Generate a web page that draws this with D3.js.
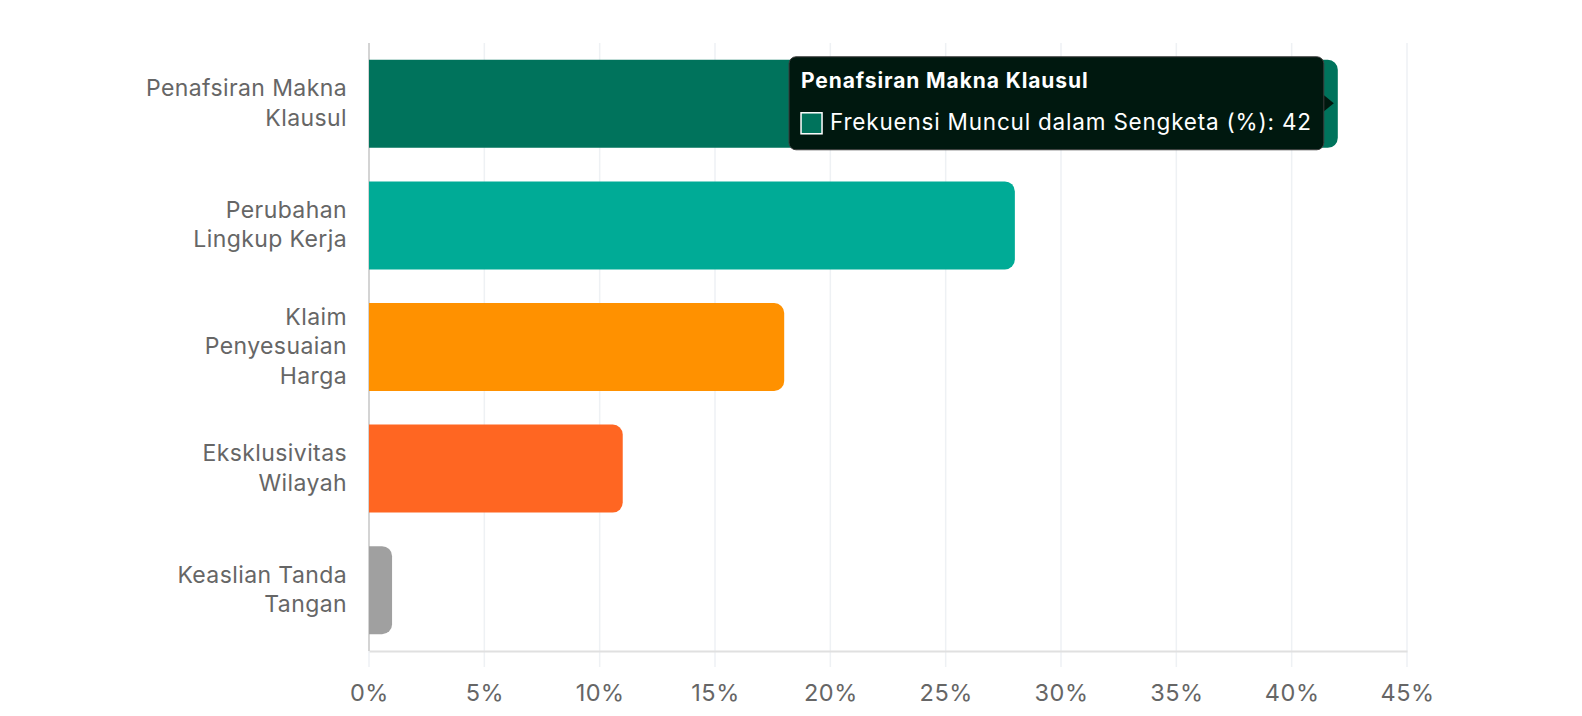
<!DOCTYPE html>
<html>
<head>
<meta charset="utf-8">
<script src="https://cdn.jsdelivr.net/npm/d3@7"></script>
<style>
  body { margin: 0; background: #fff; }
  svg { display: block; font-family: Inter, "Noto Sans", sans-serif; }
</style>
</head>
<body>
<div id="chart"></div>
<script>
// data
const categories = ["Penafsiran Makna Klausul", "Perubahan Lingkup Kerja", "Klaim Penyesuaian Harga", "Eksklusivitas Wilayah", "Keaslian Tanda Tangan"]
const categoryLines = [["Penafsiran Makna", "Klausul"], ["Perubahan", "Lingkup Kerja"], ["Klaim", "Penyesuaian", "Harga"], ["Eksklusivitas", "Wilayah"], ["Keaslian Tanda", "Tangan"]]
const values = [42, 28, 18, 11, 1]
const barColors = ["#00735c", "#00ab96", "#ff9100", "#ff6622", "#a0a0a0"]
const xTicks = [0, 5, 10, 15, 20, 25, 30, 35, 40, 45]
const seriesName = "Frekuensi Muncul dalam Sengketa (%)"
const hovered = 0 // index of the bar showing the tooltip

const width = 1582, height = 716
const marginLeft = 369, marginRight = 175, marginTop = 43, marginBottom = 65
const fontSize = 23

const x = d3.scaleLinear().domain([0, 45]).range([marginLeft, width - marginRight])
const y = d3.scaleBand()
      .domain(categories)
      .range([marginTop, height - marginBottom])
      .paddingInner(0.276)
      .paddingOuter(0.138)

const svg = d3.select("#chart").append("svg")
      .attr("width", width)
      .attr("height", height)
      .attr("viewBox", [0, 0, width, height])

// vertical grid
svg.append("g")
      .selectAll("line")
      .data(xTicks)
      .join("line")
      .attr("x1", d => x(d)).attr("x2", d => x(d))
      .attr("y1", marginTop).attr("y2", height - marginBottom + 16)
      .attr("stroke", "#eef1f4")
      .attr("stroke-width", 1.5)

// x axis
const xAxis = d3.axisBottom(x).tickValues(xTicks).tickFormat(d => d + "%").tickSize(0).tickPadding(33)
svg.append("g")
      .attr("transform", `translate(0,${height - marginBottom})`)
      .call(xAxis)
      .call(g => g.select(".domain").attr("stroke", "#e0e0e0").attr("stroke-width", 2))
      .call(g => g.selectAll(".tick text")
            .attr("font-size", 23.5)
            .attr("letter-spacing", "0.5px")
            .attr("font-family", "Inter, sans-serif")
            .attr("fill", "#666"))

// y axis line
svg.append("line")
      .attr("x1", x(0)).attr("x2", x(0))
      .attr("y1", marginTop).attr("y2", height - marginBottom)
      .attr("stroke", "#d4d4d4")
      .attr("stroke-width", 2)

// category labels
const lineHeight = 29.5
svg.append("g")
      .selectAll("text")
      .data(categories)
      .join("text")
      .attr("text-anchor", "end")
      .attr("font-size", fontSize)
      .attr("letter-spacing", "0.4px")
      .attr("fill", "#666")
      .attr("transform", d => `translate(${x(0) - 22},${y(d) + y.bandwidth() / 2 - 1})`)
      .each(function(d, i) {
            const lines = categoryLines[i]
            d3.select(this).selectAll("tspan")
                  .data(lines)
                  .join("tspan")
                  .attr("x", 0)
                  .attr("y", (l, j) => (j - (lines.length - 1) / 2) * lineHeight)
                  .attr("dy", "0.36em")
                  .text(l => l)
      })

// bars with rounded right end
const r = 10
function barPath(x0, x1, y0, h) {
      const rr = Math.min(r, (x1 - x0))
      return `M${x0},${y0}H${x1 - rr}A${rr},${rr} 0 0 1 ${x1},${y0 + rr}V${y0 + h - rr}A${rr},${rr} 0 0 1 ${x1 - rr},${y0 + h}H${x0}Z`
}
svg.append("g")
      .selectAll("path")
      .data(categories)
      .join("path")
      .attr("d", (d, i) => barPath(x(0), x(values[i]), y(d), y.bandwidth()))
      .attr("fill", (d, i) => barColors[i])

// tooltip
const tipRight = x(values[hovered]) - 14
const tipTop = y(categories[hovered]) - 3
const tipH = 93
const tip = svg.append("g")
const tipTitle = tip.append("text")
      .attr("y", tipTop + 31)
      .attr("font-size", 21)
      .attr("font-weight", 700)
      .attr("letter-spacing", "0.9px")
      .attr("fill", "#fff")
      .text(categories[hovered])
const tipText = tip.append("text")
      .attr("y", tipTop + 73)
      .attr("font-size", 22.5)
      .attr("letter-spacing", "0.8px")
      .attr("fill", "#fff")
      .text(`${seriesName}: ${values[hovered]}`)
const textW = Math.max(tipText.node().getComputedTextLength() + 29, tipTitle.node().getComputedTextLength())
const tipW = 12 + textW + 12
const tipLeft = tipRight - tipW
tipTitle.attr("x", tipLeft + 12)
tipText.attr("x", tipLeft + 41)
tip.insert("path", "text")
      .attr("d", `M${tipRight - 1},${tipTop + tipH / 2 - 9}L${tipRight + 10},${tipTop + tipH / 2}L${tipRight - 1},${tipTop + tipH / 2 + 9}Z`)
      .attr("fill", "#00180f")
tip.insert("rect", "text")
      .attr("x", tipLeft).attr("y", tipTop)
      .attr("width", tipW).attr("height", tipH)
      .attr("rx", 7)
      .attr("fill", "#00180f")
      .attr("stroke", "#3c3c3c")
      .attr("stroke-width", 1)
tip.append("rect")
      .attr("x", tipLeft + 12).attr("y", tipTop + 56)
      .attr("width", 21).attr("height", 21)
      .attr("fill", barColors[hovered])
      .attr("stroke", "#fff")
      .attr("stroke-width", 1.5)
</script>
</body>
</html>
